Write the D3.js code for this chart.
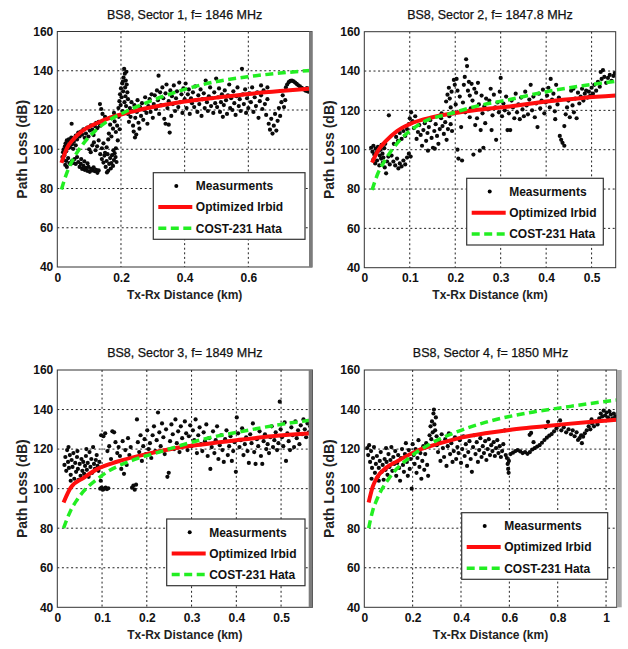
<!DOCTYPE html>
<html><head><meta charset="utf-8">
<script src="https://cdn.jsdelivr.net/npm/d3@7/dist/d3.min.js"></script>
<style>body{margin:0;background:#fff}svg{display:block}text{font-family:"Liberation Sans",Arial,sans-serif}</style>
</head><body>
<svg id="chart" width="628" height="649"></svg>
<script>
// ---------- DATA ----------
const titles = ["BS8, Sector 1, f= 1846 MHz","BS8, Sector 2, f= 1847.8 MHz","BS8, Sector 3, f= 1849 MHz","BS8, Sector 4, f= 1850 MHz"];
const xMax = [0.8, 0.553, 0.57, 1.044];
const xTicks1 = [0,0.2,0.4,0.6];
const xTicks2 = [0,0.1,0.2,0.3,0.4,0.5];
const xTicks3 = [0,0.1,0.2,0.3,0.4,0.5];
const xTicks4 = [0,0.2,0.4,0.6,0.8,1];
const yTicks = [40,60,80,100,120,140,160];
const legendLabels = ["Measurments","Optimized Irbid","COST-231 Hata"];

const irbid1 = [[0.013,93],[0.03,100.5],[0.05,105],[0.08,109.5],[0.12,113],[0.17,116.3],[0.2,117.7],[0.3,121.5],[0.4,124.3],[0.5,126.3],[0.6,128.2],[0.7,129.7],[0.8,131]];
const hata1 = [[0.013,79.5],[0.03,88],[0.05,95],[0.08,102.5],[0.12,109.5],[0.17,115.5],[0.2,118],[0.3,125],[0.4,130.5],[0.5,134.5],[0.6,137],[0.7,138.8],[0.8,140.2]];
const irbid2 = [[0.017,93.4],[0.03,99.5],[0.05,105],[0.072,109.5],[0.1,113],[0.15,116.5],[0.196,118.5],[0.25,120.3],[0.32,122],[0.4,124.5],[0.48,126.3],[0.553,127.5]];
const hata2 = [[0.017,79.5],[0.03,88],[0.046,94.8],[0.079,105],[0.123,113.2],[0.196,118.8],[0.25,122.3],[0.32,125.5],[0.4,129.5],[0.48,132.5],[0.553,134.8]];
const irbid3 = [[0.014,93],[0.03,100.5],[0.059,105.5],[0.09,110],[0.133,113.6],[0.208,117.9],[0.26,120.3],[0.319,122.2],[0.4,124.5],[0.48,126.5],[0.57,128]];
const hata3 = [[0.014,80],[0.03,89],[0.044,94.3],[0.096,106],[0.17,114.5],[0.22,118],[0.319,124.6],[0.43,129.7],[0.5,132.5],[0.57,134.7]];
const irbid4 = [[0.018,93],[0.035,101],[0.052,105.5],[0.09,110.5],[0.135,113.8],[0.23,119.8],[0.3,122.5],[0.4,125.8],[0.5,128],[0.6,129.7],[0.7,131],[0.82,132.5],[0.93,133.7],[1.044,134.8]];
const hata4 = [[0.018,80],[0.035,89],[0.052,94.5],[0.107,106],[0.19,116],[0.27,122.5],[0.4,129.5],[0.5,133.5],[0.6,136.5],[0.7,138.8],[0.82,141],[0.93,143],[1.044,144.8]];

const meas1 = [[0.016,96],[0.018,98.5],[0.02,100],[0.022,97],[0.024,101.5],[0.026,103],[0.028,99],[0.03,104.5],[0.032,102],[0.034,100.5],[0.036,105],[0.038,103.5],[0.04,101],[0.042,104],[0.044,106],[0.046,102.5],[0.048,104.8],[0.05,100.2],[0.052,103.8],[0.055,105.5],[0.058,102],
[0.025,92],[0.028,94],[0.03,91],[0.034,95.5],[0.038,93],[0.042,92.5],[0.046,94],[0.05,93],[0.054,95],[0.058,92.5],[0.02,94.5],[0.062,96],[0.045,113],
[0.066,93.5],[0.07,91],[0.074,92.5],[0.078,90],[0.082,91.5],[0.086,89.5],[0.09,90.5],[0.094,89],[0.098,91],[0.102,88.5],[0.106,90],[0.11,89.2],[0.114,90.8],[0.118,88.8],[0.122,89.5],[0.126,88],[0.13,89.2],[0.075,95],[0.085,93.8],[0.095,92.8],
[0.058,107],[0.062,105],[0.066,108.5],[0.07,106.5],[0.074,109],[0.078,107.5],[0.082,110.2],[0.086,105.8],[0.09,108],[0.094,111],[0.098,106.5],[0.102,109.5],[0.106,112.2],[0.11,110],[0.114,107.2],[0.118,111.8],[0.122,113.5],[0.126,110.8],[0.13,114],[0.134,112],
[0.1,100],[0.105,98.5],[0.11,102],[0.115,103.5],[0.12,99.5],[0.125,101.5],[0.13,104.5],[0.135,97.5],[0.14,100.5],[0.145,103],[0.15,98.2],[0.155,101],[0.16,105],
[0.134,123],[0.138,120.5],[0.142,118],[0.15,116.5],[0.145,113.5],
[0.14,95],[0.145,93.2],[0.148,96.8],[0.152,91],[0.155,94],[0.158,97.5],[0.16,89],[0.163,92.5],[0.166,95.5],[0.17,93],[0.172,97],[0.175,91.5],[0.178,94.5],[0.18,98],[0.183,96],[0.186,93.5],[0.156,88.2],[0.168,90.2],[0.176,99.5],[0.184,100.5],
[0.162,108],[0.166,112.5],[0.17,106.5],[0.175,110.5],[0.18,114.2],[0.184,108.8],[0.188,112],[0.19,104.5],[0.193,116.5],[0.196,110.2],[0.165,116],[0.178,118.5],
[0.192,121],[0.195,124.5],[0.197,128],[0.199,122.5],[0.2,131],[0.202,126.5],[0.204,133.5],[0.205,119.5],[0.207,129.5],[0.208,136.5],[0.21,141],[0.211,124],[0.212,138.5],[0.213,131.5],[0.214,127],[0.215,135],[0.216,122],[0.218,133],[0.22,129],[0.222,125.5],[0.217,139.5],[0.206,134.5],
[0.222,118],[0.225,114],[0.228,121],[0.23,116.5],[0.233,124],[0.235,119.5],[0.238,112],[0.24,109],[0.242,122.5],[0.245,116],[0.248,107.5],[0.25,119],[0.252,125],[0.255,113.5],[0.258,110.5],[0.26,121.5],[0.263,117],[0.266,123.5],[0.27,115],[0.273,120],[0.276,126.5],[0.28,118.5],[0.283,113],[0.286,122],[0.29,125.5],[0.293,119],[0.296,128],[0.3,116],[0.244,106],
[0.303,123],[0.306,127.5],[0.31,120.5],[0.313,130],[0.316,125],[0.318,137.5],[0.32,118],[0.323,129],[0.326,122.5],[0.33,131.5],[0.333,126],[0.336,115.5],[0.34,128.5],[0.343,133],[0.346,121],[0.35,124.5],[0.353,108.5],[0.355,130],[0.358,117],[0.36,127],[0.363,123],[0.366,132.5],[0.37,119.5],[0.373,126],[0.376,129.5],[0.38,121.5],[0.383,134],[0.386,124],[0.39,128],[0.393,118.5],[0.396,131],[0.35,112.5],[0.34,113],
[0.4,125.5],[0.403,133.5],[0.406,121],[0.41,128],[0.413,130.5],[0.416,118],[0.42,126],[0.423,123.5],[0.426,129],[0.43,121.5],[0.433,132],[0.436,125],[0.44,119],[0.443,127.5],[0.446,123],[0.45,130.5],[0.453,117],[0.456,125.5],[0.46,128.5],[0.463,121],[0.466,135],[0.47,124],[0.473,119.5],[0.476,127],[0.48,131.5],[0.483,122],[0.486,126],[0.49,118.5],[0.493,129],[0.496,123.5],[0.499,136],
[0.502,121.5],[0.505,126.5],[0.508,131],[0.511,119],[0.514,124],[0.517,128],[0.52,116.5],[0.523,122.5],[0.526,130],[0.53,125],[0.533,118],[0.536,127.5],[0.54,133],[0.543,121],[0.546,126],[0.55,120],[0.553,129.5],[0.556,123.5],[0.56,117.5],[0.563,127],[0.566,131.5],[0.57,122],[0.573,125.5],[0.576,119.5],[0.58,141],[0.583,128],[0.586,123],[0.59,130.5],[0.593,118.5],[0.596,126],
[0.6,121],[0.604,128.5],[0.608,124],[0.612,131.5],[0.616,119],[0.62,126.5],[0.624,122],[0.628,129],[0.632,116],[0.636,124.5],[0.64,127.5],[0.644,120.5],[0.648,130],[0.652,123],[0.656,117.5],[0.66,125.5],[0.664,113],[0.668,110],[0.672,115.5],[0.676,108],[0.68,112],[0.684,118],[0.688,109.5],[0.692,114.5],[0.696,121],[0.7,117],[0.704,124],[0.708,127.5],[0.712,121.5],[0.716,125],[0.66,131.5],[0.64,132.5],
[0.718,131.5],[0.722,133],[0.727,134.2],[0.732,134.8],[0.737,135],[0.742,134.6],[0.747,134],[0.752,133.3],[0.757,132.6],[0.762,132],[0.768,131.3],[0.774,130.5],[0.78,129.8],[0.786,129.5],[0.792,129.2],[0.79,130.8],[0.784,131.2]];

const meas2 = [[0.015,101],[0.018,99],[0.02,102],[0.022,97.5],[0.025,100.5],[0.027,98.5],[0.03,101.5],[0.032,99.5],[0.034,97],[0.036,100],[0.038,102.5],[0.04,98],[0.042,96],[0.044,100.8],[0.046,103],[0.02,95],[0.024,93],[0.028,94.5],[0.033,92],[0.037,95.5],[0.041,93.5],[0.045,91],[0.05,94],[0.048,88],[0.053,96.5],[0.056,92.5],
[0.054,117.5],
[0.06,97],[0.064,94],[0.068,92],[0.072,95.5],[0.075,90.5],[0.078,93],[0.082,91.5],[0.086,94.5],[0.09,92.5],[0.094,96],[0.098,98],[0.102,96.5],
[0.065,103],[0.07,106.5],[0.074,104.5],[0.078,108.5],[0.082,105.5],[0.086,109.5],[0.09,107],[0.094,110.5],[0.098,113],[0.1,116],[0.103,119],[0.106,114.5],[0.109,111],[0.112,117],
[0.115,105.5],[0.118,109],[0.121,112.5],[0.124,107.5],[0.127,102],[0.13,110],[0.133,113.5],[0.136,104.5],[0.139,108.5],[0.142,111.5],[0.145,115],[0.148,106],[0.151,101],[0.154,109.5],[0.157,113],[0.16,107],[0.163,103],[0.166,110.5],[0.169,116],[0.172,112],[0.175,108],[0.178,114],[0.181,105],[0.184,110.5],[0.187,117],[0.19,113],[0.193,109.5],[0.14,99.5],[0.155,100.5],[0.17,118.5],
[0.18,124.5],[0.183,128],[0.186,131.5],[0.188,126],[0.19,121.5],[0.192,129.5],[0.195,118.5],[0.197,135.5],[0.199,133],[0.201,123],[0.203,136],[0.205,130],[0.207,95.5],[0.205,100],
[0.21,127],[0.213,111.5],[0.215,94.5],[0.217,124],[0.219,133],[0.221,137],[0.224,146],[0.226,142.5],[0.228,130],[0.23,134.5],[0.232,127.5],[0.234,121],[0.236,133.5],[0.238,125],[0.24,97.5],[0.242,131],[0.244,112.5],[0.246,129],[0.248,116],[0.25,134],[0.252,123],[0.254,99.5],[0.256,110],[0.258,127.5],[0.26,118.5],[0.262,101],[0.264,122],[0.266,113.5],[0.268,126],[0.222,119],[0.232,116.5],
[0.272,120.5],[0.275,125],[0.278,131],[0.28,110],[0.282,117.5],[0.285,128],[0.288,121.5],[0.29,105],[0.293,124],[0.296,119],[0.298,129.5],[0.3,136.5],
[0.303,117],[0.306,123.5],[0.309,120],[0.312,127],[0.315,110],[0.318,118.5],[0.321,110],[0.324,125],[0.327,121.5],[0.33,116],[0.333,128.5],[0.336,119],[0.339,123],[0.342,115.5],[0.345,126.5],[0.348,120.5],[0.351,117],[0.354,129.5],[0.357,122.5],[0.36,118],[0.363,125.5],[0.366,133],[0.369,120],[0.372,127],[0.375,116.5],[0.378,123.5],[0.381,111.5],[0.384,128.5],[0.387,121],[0.39,125],[0.393,130.5],[0.396,118.5],
[0.399,124],[0.402,127.5],[0.405,131.5],[0.408,121.5],[0.41,136],[0.413,125.5],[0.416,128.5],[0.419,119.5],[0.422,133],[0.425,123],[0.428,126.5],[0.43,107],[0.433,105],[0.436,103.5],[0.44,102],[0.443,118],[0.446,121.5],[0.449,125],[0.452,116.5],[0.455,130],[0.42,115.5],[0.44,112],
[0.458,122.5],[0.461,119],[0.464,126],[0.467,116],[0.47,129],[0.473,123.5],[0.476,127],[0.479,131],[0.482,125],[0.485,128.5],[0.488,130],[0.491,126.5],[0.494,129.5],[0.497,127.5],[0.5,131.5],[0.503,128.5],[0.506,133],[0.51,130],[0.514,134.5],[0.518,132],[0.522,136],[0.525,140.5],[0.528,137],[0.532,134],[0.536,136.5],[0.54,138],[0.544,135],[0.548,137.5],[0.551,139],[0.52,139.5],[0.46,131]];

const meas3 = [[0.016,112],[0.018,116],[0.02,109],[0.022,119.5],[0.024,113.5],[0.026,110.5],[0.028,117],[0.03,107],[0.032,114.5],[0.034,111],[0.036,118],[0.038,105],[0.04,113],[0.042,108.5],[0.044,116],[0.046,110],[0.048,104.5],[0.05,112.5],[0.052,106.5],[0.054,115],[0.056,109],[0.058,113.5],[0.06,107.5],[0.062,111.5],[0.064,116.5],[0.066,109.5],[0.068,113],[0.07,106],[0.072,118.5],[0.074,111],[0.076,115],[0.078,108],[0.08,121],[0.082,112.5],[0.084,110],[0.086,114.5],[0.088,117],[0.09,111.5],[0.092,109],[0.094,113.5],[0.025,121],[0.045,119],[0.065,120],[0.03,104],
[0.096,100],[0.099,100.5],[0.102,99.5],[0.105,100],[0.108,100.5],[0.111,99.8],[0.114,100.2],[0.097,104],
[0.098,127],[0.103,126.5],[0.107,128],[0.112,119],[0.116,121.5],[0.12,115],[0.123,129],[0.127,128.5],[0.13,123.5],[0.134,118],[0.137,121],[0.14,116.5],[0.143,110],[0.146,124],[0.149,107.5],[0.152,119.5],[0.155,112],[0.158,125.5],[0.161,117],[0.164,121],[0.167,100.5],[0.17,101.5],[0.173,99.5],[0.176,102],[0.178,135],[0.18,123.5],[0.183,118.5],[0.186,127],[0.189,114],[0.192,121.5],[0.195,125],[0.198,117.5],[0.201,129.5],[0.204,120],[0.207,123],[0.21,115.5],[0.213,127],[0.216,131.5],[0.219,119],[0.222,124.5],[0.225,138.5],[0.228,128.5],[0.231,121.5],[0.234,133],[0.237,126],[0.24,117.5],[0.243,130],[0.246,106],[0.249,108],[0.252,124],[0.255,132.5],[0.258,127.5],[0.261,120],[0.264,135],[0.267,123],[0.27,129],[0.273,118.5],[0.276,131.5],[0.279,125.5],[0.282,122],[0.285,134],[0.288,128],[0.291,119.5],[0.294,126.5],[0.297,132],
[0.3,121.5],[0.303,129.5],[0.306,124.5],[0.309,135],[0.312,118],[0.315,127],[0.318,131],[0.321,122.5],[0.324,119],[0.327,128.5],[0.33,124],[0.333,132.5],[0.336,116.5],[0.339,125.5],[0.342,110],[0.345,121],[0.348,129],[0.351,118],[0.354,124.5],[0.357,131.5],[0.36,115],[0.363,122],[0.366,127],[0.369,119.5],[0.372,113.5],[0.375,125],[0.378,129.5],[0.381,117],[0.384,121.5],[0.387,126.5],[0.39,114],[0.393,119],[0.396,123.5],[0.399,108.5],[0.401,136],
[0.404,128],[0.407,121],[0.41,124.5],[0.413,130.5],[0.416,117],[0.419,122.5],[0.422,126],[0.425,119],[0.428,113],[0.431,127.5],[0.434,123],[0.437,133],[0.44,118.5],[0.443,112.5],[0.446,125],[0.449,121.5],[0.452,129],[0.455,116.5],[0.458,112.5],[0.461,124],[0.464,127.5],[0.467,120],[0.47,122.5],[0.473,118],[0.476,126],[0.479,131.5],[0.482,121],[0.485,124.5],[0.488,128.5],[0.491,119.5],[0.494,123],[0.497,144],[0.499,130],
[0.502,126],[0.505,121.5],[0.508,133.5],[0.511,114],[0.514,128],[0.517,124],[0.52,119.5],[0.523,131],[0.526,127],[0.529,121],[0.532,134],[0.535,125.5],[0.538,129.5],[0.541,122.5],[0.544,132],[0.547,127.5],[0.55,135],[0.553,130],[0.556,126],[0.559,133],[0.562,128.5],[0.565,131.5]];

const meas4 = [[0.012,120.5],[0.016,117],[0.02,122],[0.024,113.5],[0.028,119],[0.032,110.5],[0.036,115.5],[0.04,121],[0.044,108],[0.048,112.5],[0.052,116.5],[0.056,106],[0.06,110.5],[0.064,114],[0.068,118.5],[0.072,108.5],[0.076,112],[0.08,104.5],[0.084,115],[0.088,109.5],[0.092,113.5],[0.096,107],[0.1,117.5],[0.104,111],[0.108,114.5],[0.112,121],[0.116,109],[0.12,116],[0.124,112.5],[0.128,119],[0.132,106.5],[0.136,113],[0.14,117],[0.144,110.5],[0.148,104],[0.152,115.5],[0.156,120],[0.16,112],[0.164,108.5],[0.168,117.5],[0.172,123],[0.176,113.5],[0.18,106.5],[0.184,119.5],[0.188,110],[0.192,115],[0.196,100],[0.2,122.5],[0.204,117],[0.208,112.5],[0.212,120],[0.216,108],[0.22,115.5],[0.224,124.5],[0.228,111],[0.232,118],[0.236,105],[0.24,114],[0.244,121.5],[0.248,109.5],[0.252,117.5],[0.256,123],[0.26,112],[0.264,106.5],[0.03,105],[0.06,104],[0.09,120.5],
[0.27,127],[0.274,131.5],[0.277,125],[0.28,134],[0.283,128.5],[0.286,138],[0.288,140],[0.29,132.5],[0.293,129.5],[0.296,136],[0.299,126.5],[0.3,122],
[0.305,118.5],[0.31,124],[0.315,114],[0.32,127.5],[0.325,120.5],[0.33,116],[0.335,125],[0.34,111.5],[0.345,121.5],[0.35,128],[0.355,117.5],[0.36,123],[0.365,113.5],[0.37,119],[0.375,126],[0.38,115],[0.385,121],[0.39,118],[0.395,124.5],[0.4,113],[0.405,120],[0.41,126.5],[0.415,116.5],[0.42,122.5],[0.425,111.5],[0.43,118.5],[0.435,124],[0.44,115],[0.445,108.5],[0.45,121],[0.455,127],[0.46,117.5],[0.465,123.5],[0.47,113.5],[0.475,119.5],[0.48,125.5],[0.485,116],[0.49,121.5],[0.495,118],[0.5,124],[0.505,114.5],[0.51,120],
[0.515,125],[0.52,117],[0.525,122],[0.53,119],[0.535,123.5],[0.54,116.5],[0.545,120.5],[0.55,124.5],[0.555,118],[0.56,121.5],[0.565,116],[0.57,119],[0.575,122.5],[0.581,129.5],[0.585,117],[0.59,115.5],[0.593,112.5],[0.595,110],[0.597,108],[0.598,114],
[0.605,117.5],[0.615,118.2],[0.625,119],[0.635,119.5],[0.645,118.8],[0.655,118],[0.665,118.5],[0.675,117.6],[0.685,118.5],[0.695,119.8],[0.705,120.5],[0.715,121.3],[0.725,122],[0.735,123.2],[0.745,124.6],[0.755,125.8],[0.765,126.8],[0.775,127.6],[0.785,129],[0.684,127.2],[0.69,128.2],[0.76,133.8],[0.75,131],[0.7,123.5],
[0.795,130.5],[0.805,132],[0.815,129.5],[0.825,131],[0.835,128.5],[0.845,130],[0.855,127.5],[0.862,129.5],[0.87,126.5],[0.878,128.5],[0.884,124.6],[0.89,125.5],[0.897,127],[0.905,126.3],[0.912,128],[0.92,129.5],[0.928,131.5],[0.935,130],[0.942,133],[0.95,131.5],[0.958,134],[0.965,132.5],[0.972,135.5],[0.978,138],[0.984,136.5],[0.99,139.5],[0.996,137],[1.002,138.5],[1.008,136],[1.014,139],[1.02,137.5],[1.026,135.5],[1.032,138],[1.038,136.5],[0.9,123],[0.81,134.5],[0.94,135]];

// ---------- LAYOUT ----------
const layout = [
  {l:57.3, r:312, t:31.5, b:267, bar:[309,3,"#7c7c7c"], leg:[153.3,172.7,151.7,66.6]},
  {l:364.3, r:615.7, t:31.7, b:267.7, bar:null, leg:[466.7,178.3,136.6,66.7]},
  {l:57.3, r:312.4, t:370, b:607.3, bar:[308.7,3.7,"#7c7c7c"], leg:[166.7,519,138.3,66.7]},
  {l:364.3, r:616.7, t:370, b:607.3, bar:[616.7,5,"#a9a9a9"], leg:[461.7,512.7,146,66.6]}
];
const xTicksAll = [xTicks1,xTicks2,xTicks3,xTicks4];
const measAll = [meas1,meas2,meas3,meas4];
const irbidAll = [irbid1,irbid2,irbid3,irbid4];
const hataAll = [hata1,hata2,hata3,hata4];
const RED = "#ff0d0d", GREEN = "#22ee22";

const svg = d3.select("#chart");

layout.forEach((L,i)=>{
  const x = d3.scaleLinear().domain([0,xMax[i]]).range([L.l,L.r]);
  const y = d3.scaleLinear().domain([40,160]).range([L.b,L.t]);
  const g = svg.append("g");
  const clipId = "clip"+i;
  svg.append("clipPath").attr("id",clipId).append("rect")
     .attr("x",L.l).attr("y",L.t).attr("width",L.r-L.l).attr("height",L.b-L.t);

  g.append("rect").attr("x",L.l).attr("y",L.t).attr("width",L.r-L.l).attr("height",L.b-L.t).attr("fill","#fff");

  // grid
  const grid = g.append("g").attr("stroke","#222").attr("stroke-width",1).attr("stroke-dasharray","2,2.6");
  grid.selectAll(".gx").data(xTicksAll[i].filter(v=>v>0)).join("line")
    .attr("x1",d=>x(d)).attr("x2",d=>x(d)).attr("y1",L.t).attr("y2",L.b);
  grid.selectAll(".gy").data(yTicks.filter(v=>v>40&&v<160)).join("line")
    .attr("y1",d=>y(d)).attr("y2",d=>y(d)).attr("x1",L.l).attr("x2",L.r);

  const plot = g.append("g").attr("clip-path",`url(#${clipId})`);
  plot.selectAll("circle").data(measAll[i]).join("circle")
    .attr("cx",d=>x(d[0])).attr("cy",d=>y(d[1])).attr("r",2.1).attr("fill","#0a0a0a");

  const line = d3.line().x(d=>x(d[0])).y(d=>y(d[1])).curve(d3.curveMonotoneX);
  plot.append("path").datum(irbidAll[i]).attr("d",line).attr("fill","none")
    .attr("stroke",RED).attr("stroke-width",4);
  plot.append("path").datum(hataAll[i]).attr("d",line).attr("fill","none")
    .attr("stroke",GREEN).attr("stroke-width",3.5).attr("stroke-dasharray","8,4.5");

  // frame
  g.append("rect").attr("x",L.l).attr("y",L.t).attr("width",L.r-L.l).attr("height",L.b-L.t)
    .attr("fill","none").attr("stroke","#333").attr("stroke-width",1);
  if(L.bar){
    g.append("rect").attr("x",L.bar[0]).attr("y",L.t).attr("width",L.bar[1]).attr("height",L.b-L.t).attr("fill",L.bar[2]);
  }

  // axes
  const xa = g.append("g").attr("transform",`translate(0,${L.b})`)
    .call(d3.axisBottom(x).tickValues(xTicksAll[i]).tickSize(0).tickPadding(6).tickFormat(d3.format("~g")));
  xa.select(".domain").remove();
  xa.selectAll("text").attr("font-size",12).attr("font-weight","bold").attr("fill","#111")
    .attr("font-family","Liberation Sans, Arial, sans-serif");
  const ya = g.append("g").attr("transform",`translate(${L.l},0)`)
    .call(d3.axisLeft(y).tickValues(yTicks).tickSize(0).tickPadding(4));
  ya.select(".domain").remove();
  ya.selectAll("text").attr("font-size",12).attr("font-weight","bold").attr("fill","#111")
    .attr("font-family","Liberation Sans, Arial, sans-serif");

  // labels
  g.append("text").attr("x",(L.l+L.r)/2).attr("y",L.t-13).attr("text-anchor","middle")
    .attr("font-size",12.5).attr("fill","#111").attr("stroke","#111").attr("stroke-width",0.25).text(titles[i]);
  g.append("text").attr("x",(L.l+L.r)/2).attr("y",L.b+31.5).attr("text-anchor","middle")
    .attr("font-size",12).attr("font-weight","bold").attr("fill","#222").text("Tx-Rx Distance (km)");
  g.append("text").attr("transform",`translate(${L.l-35.5},${(L.t+L.b)/2}) rotate(-90)`)
    .attr("text-anchor","middle").attr("dy","0.35em")
    .attr("font-size",14).attr("font-weight","bold").attr("fill","#222").text("Path Loss (dB)");

  // legend
  const [lx,ly,lw,lh] = L.leg;
  const lg = g.append("g");
  lg.append("rect").attr("x",lx).attr("y",ly).attr("width",lw).attr("height",lh)
    .attr("fill","#fff").attr("stroke","#333").attr("stroke-width",1.2);
  const rows = [13.3,34.4,55.6];
  lg.append("circle").attr("cx",lx+23).attr("cy",ly+rows[0]).attr("r",2).attr("fill","#000");
  lg.append("line").attr("x1",lx+5).attr("x2",lx+39).attr("y1",ly+rows[1]).attr("y2",ly+rows[1])
    .attr("stroke",RED).attr("stroke-width",4);
  lg.append("line").attr("x1",lx+5).attr("x2",lx+39).attr("y1",ly+rows[2]).attr("y2",ly+rows[2])
    .attr("stroke",GREEN).attr("stroke-width",3.5).attr("stroke-dasharray","8,4.5");
  lg.selectAll("text.lt").data(legendLabels).join("text")
    .attr("x",lx+42.5).attr("y",(d,k)=>ly+rows[k]).attr("dy","0.36em")
    .attr("font-size",12).attr("font-weight","bold").attr("fill","#111").text(d=>d);
});
</script>
</body></html>
